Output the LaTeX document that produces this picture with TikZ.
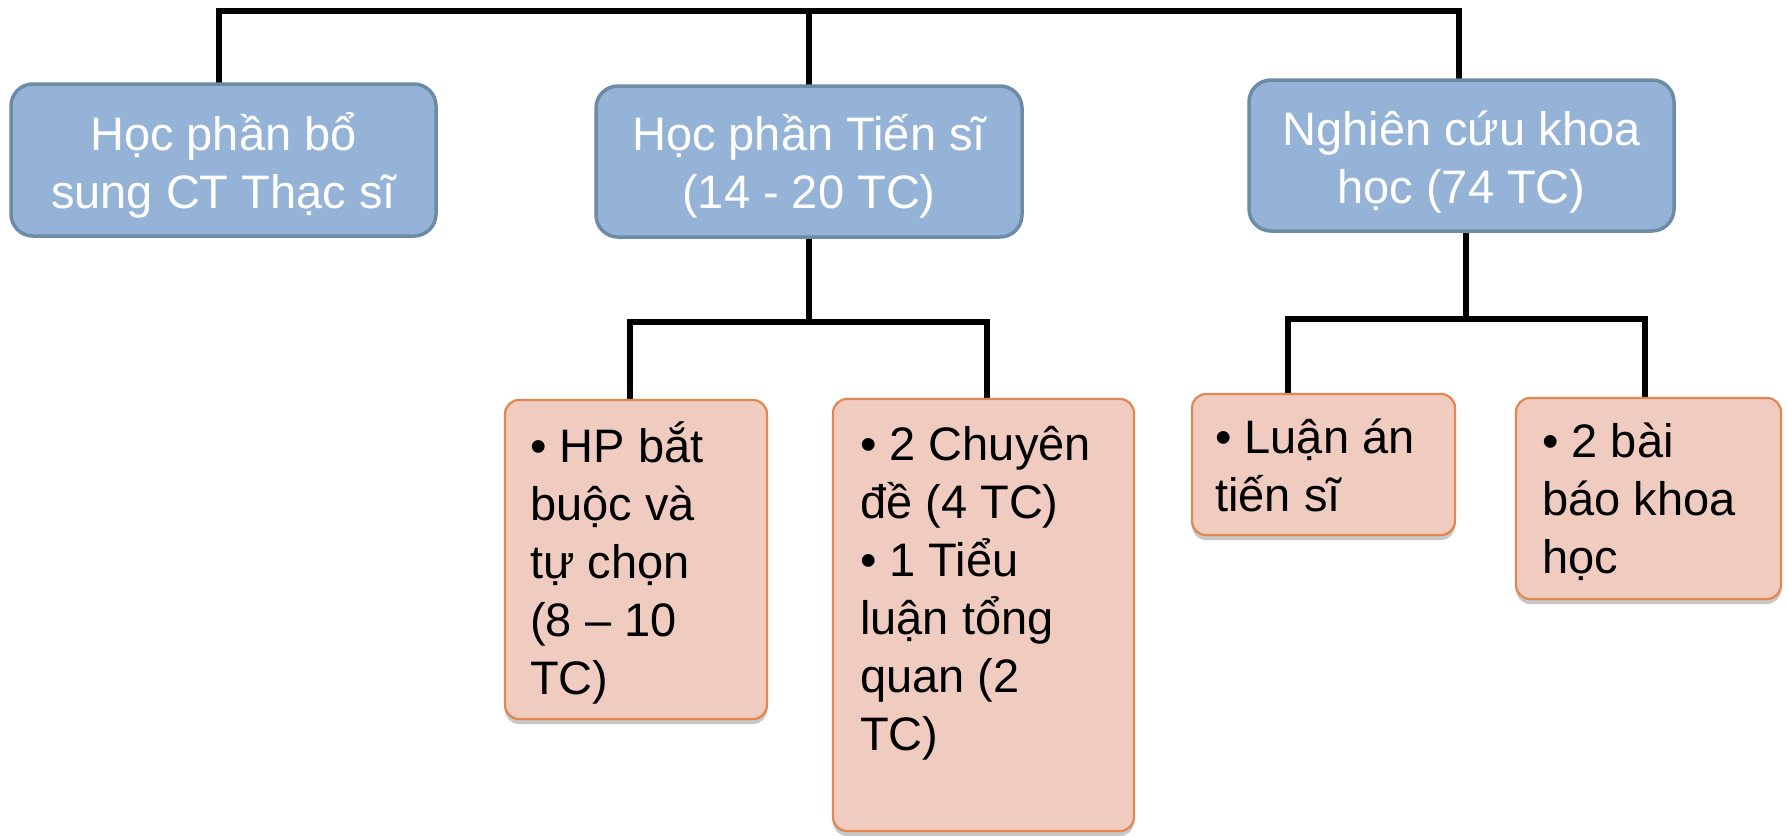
\documentclass[tikz,border=0pt]{standalone}
\usepackage{fontspec}
\setmainfont{Liberation Sans}
\usetikzlibrary{calc,shadows,backgrounds}
\definecolor{bluefill}{RGB}{149,179,215}
\definecolor{blueedge}{RGB}{108,139,166}
\definecolor{pinkfill}{RGB}{240,204,192}
\definecolor{pinkedge}{RGB}{226,135,80}
\begin{document}
\begin{tikzpicture}[x=1pt,y=-1pt,
  topbox/.style={draw=blueedge, fill=bluefill, line width=3.5pt, rounded corners=22pt, anchor=north west, inner sep=0pt, outer sep=0pt},
  subbox/.style={draw=pinkedge, fill=pinkfill, line width=2.2pt, rounded corners=14pt, anchor=north west, inner sep=0pt, outer sep=0pt, drop shadow={shadow xshift=0pt, shadow yshift=-5pt, opacity=0.22, fill=black}},
  toptext/.style={text=white, align=center, anchor=base, inner sep=0pt, font=\fontsize{47}{58}\selectfont},
  subtext/.style={text=black, align=left, anchor=base west, inner sep=0pt, font=\fontsize{47}{58}\selectfont},
  conn/.style={line width=6pt, draw=black, line join=miter},
  subconn/.style={line width=5.5pt, draw=black, line join=miter}
]
\useasboundingbox (0,0) rectangle (1787,835);

% top level boxes
\node[topbox, minimum width=425pt, minimum height=152pt] (b1) at (11,84) {};
\node[topbox, minimum width=426pt, minimum height=151pt] (b2) at (596,86) {};
\node[topbox, minimum width=425pt, minimum height=151pt] (b3) at (1249,80) {};

% sub boxes
\node[subbox, minimum width=262pt, minimum height=319pt] (b4) at (505,400) {};
\node[subbox, minimum width=301pt, minimum height=432pt] (b5) at (833,399) {};
\node[subbox, minimum width=263pt, minimum height=141pt] (b6) at (1192,394) {};
\node[subbox, minimum width=265pt, minimum height=201pt] (b7) at (1516,398) {};

% texts (anchor base = baseline of the last line)
\node[toptext] (t1) at ($(b1.north)+(0,124)$) {Học phần bổ\\sung CT Thạc sĩ};
\node[toptext] (t2) at ($(b2.north)+(0,122)$) {Học phần Tiến sĩ\\(14 - 20 TC)};
\node[toptext] (t3) at ($(b3.north)+(0,123)$) {Nghiên cứu khoa\\học (74 TC)};
\node[subtext] (t4) at ($(b4.north west)+(25,294)$) {• HP bắt\\buộc và\\tự chọn\\(8 – 10\\TC)};
\node[subtext] (t5) at ($(b5.north west)+(27,351)$) {• 2 Chuyên\\đề (4 TC)\\• 1 Tiểu\\luận tổng\\quan (2\\TC)};
\node[subtext] (t6) at ($(b6.north west)+(23,117)$) {• Luận án\\tiến sĩ};
\node[subtext] (t7) at ($(b7.north west)+(26,175)$) {• 2 bài\\báo khoa\\học};

% connectors
\coordinate (j0) at (809,11);
\coordinate (j1) at (809,322);
\coordinate (j2) at (1466,319);
\begin{scope}[on background layer]
\fill[white] (0,0) rectangle (1787,835);
\draw[conn] ([xshift=-4.5pt]b1.north) |- (j0) -| ([xshift=-2.5pt]b3.north);
\draw[conn] (j0) -- (b2.north);
\draw[subconn] (b2.south) -- (j1);
\draw[subconn] ([xshift=-6pt]b4.north) |- (j1) -| ([xshift=3.5pt]b5.north);
\draw[subconn] ([xshift=4.5pt]b3.south) -- (j2);
\draw[subconn] ([xshift=-35.5pt]b6.north) |- (j2) -| ([xshift=-3.5pt]b7.north);
\end{scope}
\end{tikzpicture}
\end{document}
